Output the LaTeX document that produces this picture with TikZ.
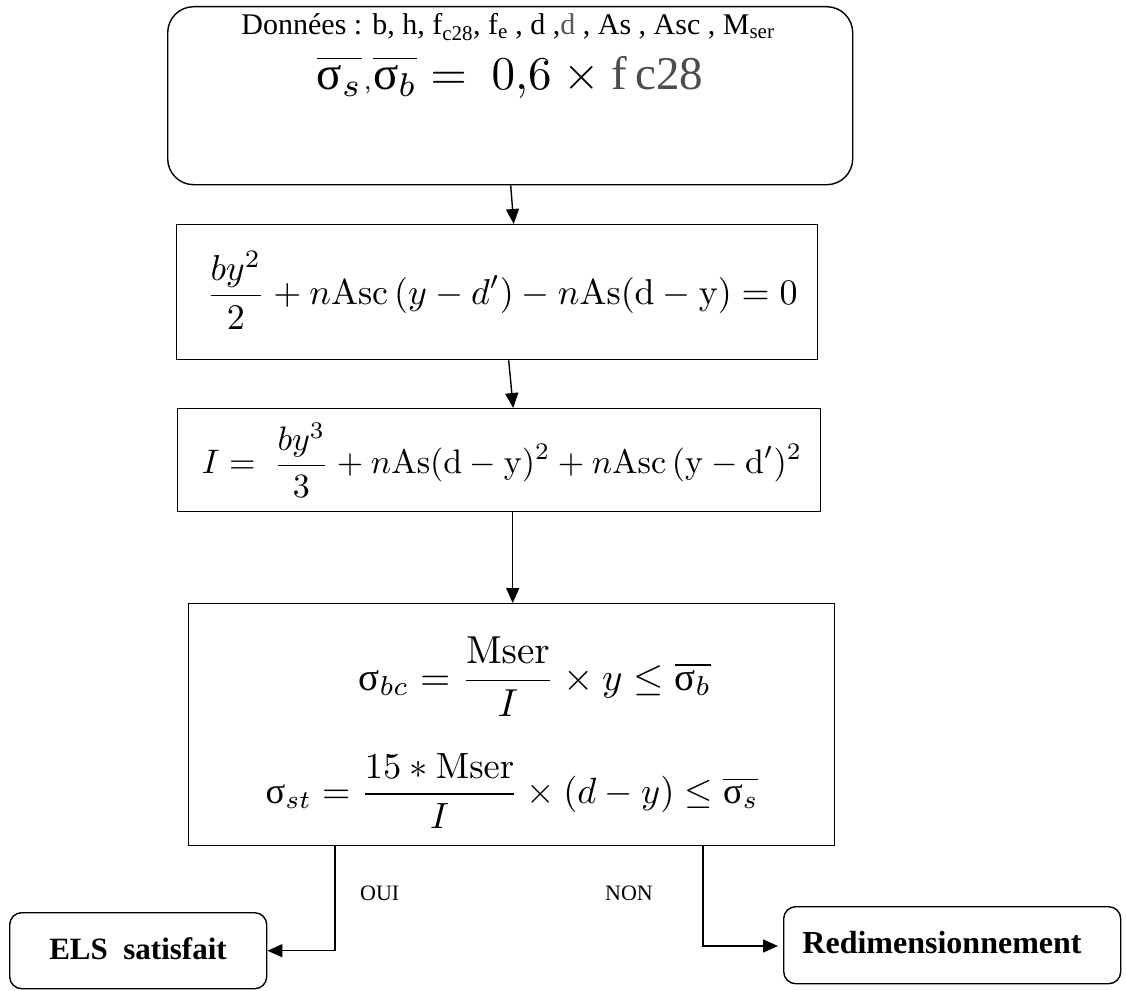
\documentclass[tikz,border=0pt]{standalone}
\usepackage[no-math]{fontspec}
\setmainfont{Liberation Serif}
\usetikzlibrary{arrows.meta}
\newcommand{\usig}{\mbox{σ}}
\newcommand{\fsz}[1]{\fontsize{#1}{1.2\dimexpr#1\relax}\selectfont}
\begin{document}
\begin{tikzpicture}[x=1pt,y=-1pt,
  box/.style={draw, line width=1.4pt, inner sep=0pt, anchor=north west},
  roundbox/.style={box, rounded corners=#1},
  conn/.style={line width=1.4pt, -{Triangle[length=15pt,width=13pt]}},
  lbl/.style={inner sep=0pt},
  eq/.style={inner sep=0pt, scale=#1}]
\useasboundingbox (0,0) rectangle (1126,990);

% main chain of boxes
\node[roundbox=26pt, minimum width=685pt, minimum height=178pt] (data) at (167,6) {};
\node[box, minimum width=641pt, minimum height=135pt] (eqy) at (176,224) {};
\node[box, minimum width=643pt, minimum height=103pt] (eqI) at (177,408) {};
\node[box, minimum width=646pt, minimum height=242pt] (check) at (188,603) {};

% outcome boxes
\node[roundbox=12pt, minimum width=257pt, minimum height=76pt] (ok) at (9,912) {};
\node[roundbox=12pt, minimum width=337pt, minimum height=77pt] (redim) at (783,906) {};

% texts
\node[lbl] (tdata) at (508,27) {\fsz{30pt}Données : b, h, f\textsubscript{c28}, f\textsubscript{e} , d ,{\color{black!65}d} , As , Asc , M\textsubscript{ser}};
\node[eq=4.7] (tsig) at (510,77) {$\overline{\usig_s}{\scriptscriptstyle,}\overline{\usig_b} =\ 0{,}6\ \times\ ${\color{black!70}f\,c28}};
\node[eq=3.6] (ty) at (502,290) {$\displaystyle \frac{by^2}{2}+n\mathrm{Asc}\,(y-d')-n\mathrm{As}(\mathrm{d}-\mathrm{y})=0$};
\node[eq=3.4] (tI) at (502,460) {$\displaystyle I=\ \frac{by^3}{3}+n\mathrm{As}(\mathrm{d}-\mathrm{y})^2+n\mathrm{Asc}\,(\mathrm{y}-\mathrm{d}')^2$};
\node[eq=3.9] (tbc) at (535,677) {$\displaystyle \usig_{bc}=\frac{\mathrm{Mser}}{I}\times y\le\overline{\usig_b}$};
\node[eq=3.65] (tst) at (512,791) {$\displaystyle \usig_{st}=\frac{15*\mathrm{Mser}}{I}\times(d-y)\le\overline{\usig_s}$};
\node[lbl] (tok) at (138,949) {\fsz{31pt}\textbf{ELS\ \ satisfait}};
\node[lbl] (tredim) at (942,943) {\fsz{32pt}\textbf{Redimensionnement}};
\node[lbl, anchor=west] (oui) at (360,893) {\fsz{22pt}OUI};
\node[lbl, anchor=west] (non) at (605,893) {\fsz{22pt}NON};

% connectors
\draw[conn] ([xshift=0.5pt]data.south) -- ([xshift=16.5pt]eqy.north);
\draw[conn] ([xshift=11.5pt]eqy.south) -- ([xshift=14pt]eqI.north);
\draw[conn] ([xshift=13.5pt]eqI.south) -- ([xshift=13.5pt]eqI.south |- check.north);
\draw[conn] (335,845) |- (ok.east);
\draw[conn] (703,845) |- ([xshift=-5pt]redim.west |- 0,946);
\end{tikzpicture}
\end{document}
